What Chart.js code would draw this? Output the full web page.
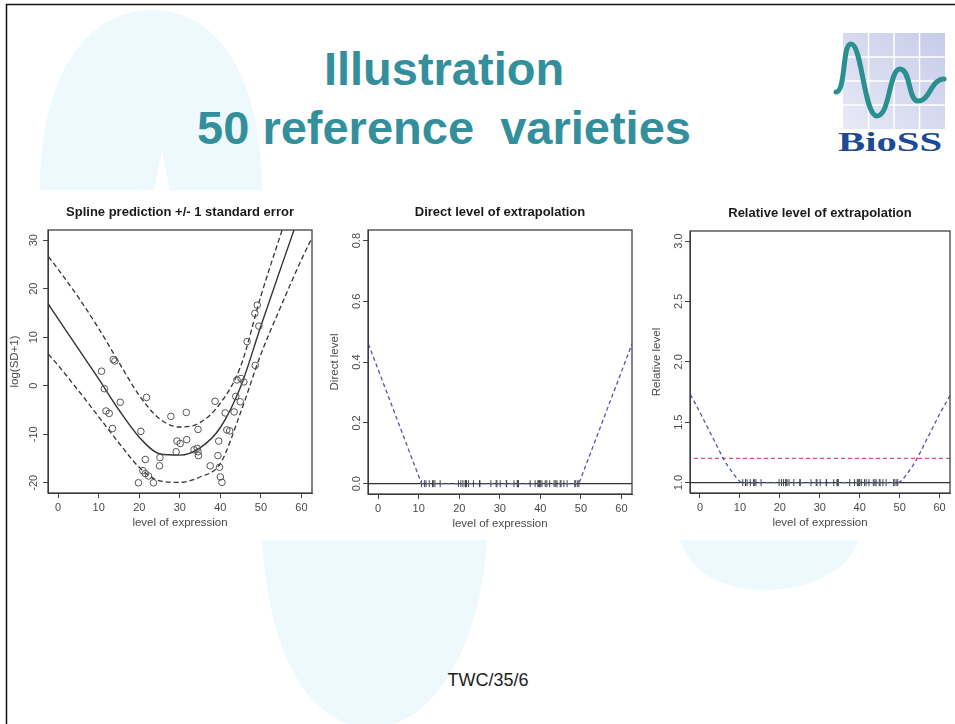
<!DOCTYPE html>
<html>
<head>
<meta charset="utf-8">
<script src="https://cdn.jsdelivr.net/npm/chart.js@4.4.0/dist/chart.umd.min.js"></script>
<style>
body{margin:0;background:#fff;}
#page{position:relative;width:955px;height:724px;overflow:hidden;background:#fff;font-family:"Liberation Sans",Arial,sans-serif;}
#page svg{position:absolute;left:0;top:0;}
canvas{position:absolute;}
</style>
</head>
<body>
<div id="page">
<svg width="955" height="724" xmlns="http://www.w3.org/2000/svg">
  <defs>
    <linearGradient id="lg" x1="1" y1="0" x2="0" y2="1">
      <stop offset="0" stop-color="#c6cbe9"/>
      <stop offset="1" stop-color="#e8eaf6"/>
    </linearGradient>
  </defs>
  <!-- faint slide shapes -->
  <path d="M40,192 C40,70 90,10 152,10 C214,10 262,70 262,192 L170,192 L162,150 L154,192 Z" fill="#edf9fd"/>
  <path d="M262,540 C270,660 310,726 372,728 C432,726 480,650 487,540 Z" fill="#edf9fd"/>
  <path d="M680,540 C690,575 728,590 765,590 C810,590 850,570 858,540 Z" fill="#edf9fd"/>
  <rect x="9" y="190" width="946" height="350" fill="#fff"/>
  <!-- border -->
  <line x1="6.5" y1="4" x2="6.5" y2="724" stroke="#111" stroke-width="1.5"/>
  <line x1="6" y1="4.5" x2="955" y2="4.5" stroke="#111" stroke-width="1.5"/>
  <!-- heading -->
  <text x="444" y="85" text-anchor="middle" font-family="Liberation Sans, Arial, sans-serif" font-weight="bold" font-size="47" fill="#348f9c">Illustration</text>
  <text x="444" y="144" text-anchor="middle" font-family="Liberation Sans, Arial, sans-serif" font-weight="bold" font-size="47" fill="#348f9c" xml:space="preserve">50 reference  varieties</text>
  <!-- logo -->
  <rect x="843" y="33" width="102" height="96" fill="url(#lg)"/>
  <g stroke="#fff" stroke-width="1.5">
    <line x1="868.5" y1="33" x2="868.5" y2="129"/>
    <line x1="894" y1="33" x2="894" y2="129"/>
    <line x1="919.5" y1="33" x2="919.5" y2="129"/>
    <line x1="843" y1="57" x2="945" y2="57"/>
    <line x1="843" y1="81" x2="945" y2="81"/>
    <line x1="843" y1="105" x2="945" y2="105"/>
  </g>
  <path d="M836,92 C846,92 842,44 851,44 C862,44 864,116 877,116 C890,116 889,69 900,69 C911,69 908,101 918,101 C930,101 931,79 944,79" fill="none" stroke="#2a8f8f" stroke-width="5" stroke-linecap="round"/>
  <text x="890" y="151" text-anchor="middle" font-family="Liberation Serif, Times New Roman, serif" font-weight="bold" font-size="27" fill="#1d4a96" textLength="104" lengthAdjust="spacingAndGlyphs">BioSS</text>
  <!-- footer -->
  <text x="488" y="686" text-anchor="middle" font-family="Liberation Sans, Arial, sans-serif" font-size="18" fill="#222">TWC/35/6</text>
</svg>
<canvas id="c1" width="330" height="340" style="left:0;top:195px"></canvas>
<canvas id="c2" width="320" height="340" style="left:325px;top:195px"></canvas>
<canvas id="c3" width="315" height="340" style="left:640px;top:195px"></canvas>
</div>
<script>
// 50 reference varieties
const levels = [10.7, 13.6, 14.0, 11.4, 11.8, 12.6, 15.3, 13.4, 20.4, 21.8, 21.5, 20.9, 21.5, 22.3, 19.8, 23.5, 25.1, 25.0, 27.8, 29.1, 29.3, 30.1, 31.6, 31.7, 34.5, 34.5, 34.3, 34.6, 33.5, 37.5, 38.7, 39.6, 39.4, 39.8, 40.0, 40.4, 41.2, 41.6, 42.3, 43.4, 43.8, 44.1, 45.1, 44.9, 45.8, 46.6, 48.5, 49.1, 48.6, 49.5];
const logSD = [3.0, 5.4, 5.1, -0.6, -5.2, -5.7, -3.4, -8.8, -9.4, -2.4, -15.2, -17.5, -18.1, -18.6, -20.0, -20.0, -14.8, -16.5, -6.3, -13.6, -11.4, -11.9, -5.5, -11.1, -9.0, -13.6, -12.9, -14.4, -13.2, -16.5, -3.2, -11.4, -14.4, -16.8, -18.8, -19.9, -5.6, -9.1, -9.3, -5.4, -2.2, 1.2, 1.5, -3.3, 0.8, 9.1, 14.9, 16.6, 4.2, 12.3];

// spline fit +/- 1 s.e.
const splineX = [-2.4, 0, 5, 10, 15, 20, 25, 30, 35, 40, 45, 50, 55, 60, 62.6];
const splineFit = [16.8, 13.8, 7.6, 1.4, -5.0, -10.6, -14.0, -14.3, -12.8, -8.6, -0.2, 12.3, 24.5, 36.5, 42.8];
const splineUpper = [26.6, 24.0, 18.2, 11.8, 4.8, -2.0, -6.8, -8.5, -7.6, -3.6, 4.0, 18.5, 31.5, 44, 50];
const splineLower = [6.5, 4.2, -1.0, -6.4, -11.8, -16.8, -19.6, -19.9, -18.8, -16.0, -5.5, 6.5, 16.5, 26, 30.5];

// direct level of extrapolation
const directX = [-2.4, 10.7, 49.5, 62.6];
const directY = [0.46, 0, 0, 0.46];

// relative level of extrapolation
const relX = [-2.4, 0, 2, 4, 6, 8, 10.7, 49.5, 52.2, 54.2, 56.2, 58.2, 60.2, 62.6];
const relY = [1.73, 1.58, 1.45, 1.32, 1.19, 1.09, 1.0, 1.0, 1.09, 1.19, 1.32, 1.45, 1.58, 1.72];
const relCut = 1.2;

const refX = [-5, 65];
const FONT = '"Liberation Sans", Arial, sans-serif';

function pts(xs, ys) {
    return xs.map((x, i) => ({x: x, y: ys[i]}));
}
function curve(xs, ys, color, dash, w, straight) {
    var ds = {data: pts(xs, ys), showLine: true, borderColor: color, borderDash: dash, borderWidth: w,
        pointRadius: 0, fill: false};
    if (straight) ds.tension = 0;
    else ds.cubicInterpolationMode = 'monotone';
    return ds;
}
function rug(yv) {
    return {data: levels.map(x => ({x: x, y: yv})), showLine: false, pointStyle: 'line', rotation: 90,
        pointRadius: 3.5, borderColor: '#444', borderWidth: 1, backgroundColor: '#444'};
}

function panel(id, box, p, datasets) {
    var canvas = document.getElementById(id);
    var W = canvas.width, H = canvas.height;
    var axisGrid = {drawOnChartArea: false, drawTicks: true, tickLength: 5, color: '#444', lineWidth: 1};
    var textPlugin = {
        id: 'rtext',
        afterDraw(chart) {
            var ctx = chart.ctx, ca = chart.chartArea;
            ctx.save();
            ctx.strokeStyle = '#333';
            ctx.lineWidth = 1.2;
            ctx.strokeRect(ca.left, ca.top, ca.right - ca.left, ca.bottom - ca.top);
            ctx.fillStyle = '#1a1a1a';
            ctx.font = 'bold 13px ' + FONT;
            ctx.textAlign = 'center';
            ctx.textBaseline = 'middle';
            ctx.fillText(p.title, (ca.left + ca.right) / 2, ca.top - 18);
            ctx.fillStyle = '#4a4a4a';
            ctx.font = '11px ' + FONT;
            var ys = chart.scales.y;
            ys.ticks.forEach(t => {
                var py = ys.getPixelForValue(t.value);
                ctx.save();
                ctx.translate(ca.left - p.yOff, py);
                ctx.rotate(-Math.PI / 2);
                ctx.fillText(p.fmt(t.value), 0, 0);
                ctx.restore();
            });
            ctx.font = '11.5px ' + FONT;
            ctx.save();
            ctx.translate(ca.left - 33, (ca.top + ca.bottom) / 2);
            ctx.rotate(-Math.PI / 2);
            ctx.fillText(p.ylab, 0, 0);
            ctx.restore();
            ctx.fillText('level of expression', (ca.left + ca.right) / 2, ca.bottom + 30);
            ctx.restore();
        }
    };
    return new Chart(canvas, {
        type: 'scatter',
        data: {datasets: datasets},
        options: {
            responsive: false,
            animation: false,
            layout: {padding: {left: 0, top: box.top, right: W - box.right, bottom: 0}},
            plugins: {legend: {display: false}, tooltip: {enabled: false}},
            scales: {
                x: {
                    type: 'linear', min: -2.5, max: 62.6,
                    afterFit: s => { s.height = H - box.bottom; },
                    ticks: {stepSize: 10, includeBounds: false, maxRotation: 0, padding: 3, color: '#4a4a4a',
                        font: {size: 11, family: FONT}},
                    grid: axisGrid,
                    border: {display: true, color: '#444'}
                },
                y: {
                    type: 'linear', min: p.ymin, max: p.ymax,
                    afterFit: s => { s.width = box.left; },
                    ticks: {stepSize: p.step, includeBounds: false, display: false},
                    grid: axisGrid,
                    border: {display: true, color: '#444'}
                }
            }
        },
        plugins: [textPlugin]
    });
}

panel('c1', {left: 48, right: 312, top: 35, bottom: 298},
    {title: 'Spline prediction +/- 1 standard error', ylab: 'log(SD+1)', ymin: -22.1, ymax: 32.1, step: 10,
        yOff: 14, fmt: v => String(Math.round(v))},
    [
        {data: pts(levels, logSD), showLine: false, pointRadius: 3.3, pointStyle: 'circle',
            backgroundColor: 'rgba(0,0,0,0)', borderColor: '#555', borderWidth: 1},
        curve(splineX, splineFit, '#333', [], 1.4),
        curve(splineX, splineUpper, '#333', [5, 3], 1.3),
        curve(splineX, splineLower, '#333', [5, 3], 1.3)
    ]);

panel('c2', {left: 43, right: 307, top: 35, bottom: 299},
    {title: 'Direct level of extrapolation', ylab: 'Direct level', ymin: -0.034, ymax: 0.835, step: 0.2,
        yOff: 11, fmt: v => v.toFixed(1)},
    [
        curve(directX, directY, '#4d58a8', [4, 3], 1.3, true),
        curve(refX, [0, 0], '#333', [], 1.2, true),
        rug(0)
    ]);

panel('c3', {left: 50, right: 312, top: 36, bottom: 298},
    {title: 'Relative level of extrapolation', ylab: 'Relative level', ymin: 0.914, ymax: 3.083, step: 0.5,
        yOff: 11, fmt: v => v.toFixed(1)},
    [
        curve(relX, relY, '#4d58a8', [4, 3], 1.3),
        curve(refX, [relCut, relCut], '#e0507a', [4, 3], 1.2, true),
        curve(refX, [1, 1], '#333', [], 1.2, true),
        rug(1)
    ]);
</script>
</body>
</html>
